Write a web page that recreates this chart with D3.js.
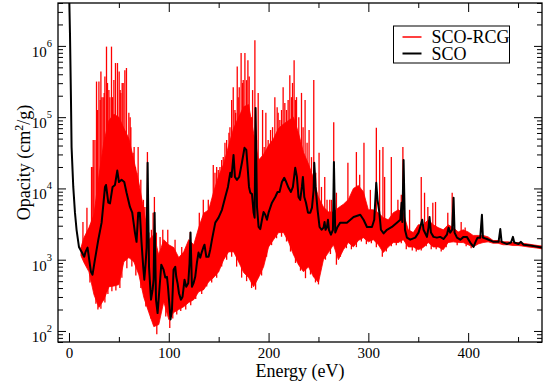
<!DOCTYPE html>
<html>
<head>
<meta charset="utf-8">
<script src="https://cdn.jsdelivr.net/npm/d3@7/dist/d3.min.js"></script>
<style>
    body { margin: 0; background: #fff; }
    text { font-family: "Liberation Serif", "Times New Roman", serif; fill: #000; }
</style>
</head>
<body>
<div id="chart"></div>
<script>
// axis ranges and ticks
const energyRange = [-11, 474];
const opacityRange = [70, 4e6];
const xMajorTicks = [0, 100, 200, 300, 400];
const xMinorTicks = [50, 150, 250, 350, 450];
const yMajorTicks = [1e2, 1e3, 1e4, 1e5, 1e6];
const yTickExponents = ["2", "3", "4", "5", "6"];
const seriesNames = ["SCO-RCG", "SCO"];

// SCO (black), [energy eV, opacity cm2/g]
const scoPoints = [
    [0.3, 4.5e6], [1.0, 1.5e6], [2.0, 1.74e5], [2.6, 3.8e4], [4.3, 1.05e4], [6.0, 4570], [7.6, 2630], [10, 1510],
    [12.6, 1290], [15.3, 1100], [16.6, 1290], [18.6, 1480], [20, 1070], [22, 676], [23.6, 617], [26, 1000],
    [29.4, 1910], [32.7, 3310], [36.1, 10500], [37.1, 11200], [39.4, 6310], [41.1, 6170], [43.7, 10500], [46.1, 11200],
    [48.4, 17800], [50.1, 12300], [52.7, 13200], [55.4, 12300], [57.7, 8710], [61.1, 5500], [63.4, 4570], [66.1, 2400],
    [67.7, 1780], [69.4, 4570], [71, 4570], [72.7, 1740], [74.4, 794], [75.5, 525], [76.8, 891], [77.8, 1480],
    [78.8, 22900], [80.2, 794], [82.2, 275], [83.8, 380], [84.8, 525], [85.8, 4570], [87.2, 275], [88.8, 178],
    [90.8, 417], [92.5, 851], [94.8, 724], [96.5, 562], [98.2, 575], [99.2, 417], [100.5, 245], [101.8, 145],
    [103.2, 200], [104.8, 724], [106.5, 794], [107.5, 575], [108.8, 468], [110.2, 339], [112.2, 275], [113.8, 302],
    [115.8, 525], [117.5, 417], [119.5, 468], [120.8, 891], [121.8, 2400], [123.2, 417], [124.8, 468], [126.5, 575],
    [128.2, 912], [129.8, 1260], [131.5, 1070], [133.2, 1290], [134.8, 1510], [135.8, 1620], [137.6, 1100], [139.9, 1100],
    [141.5, 1380], [143.3, 1910], [146.6, 3310], [149.9, 3890], [153.3, 5010], [156.6, 7590], [159.3, 10500], [161.6, 16600],
    [162.9, 14500], [164.9, 29500], [166.3, 14500], [168.3, 13200], [170.6, 14500], [173.3, 22900], [175.9, 37200], [177.7, 34700],
    [179, 20000], [180.4, 10500], [181.7, 8710], [183.4, 8320], [185, 4570], [186, 3890], [187, 135000], [188.4, 5500],
    [190, 2880], [191.7, 2690], [193.4, 3630], [195, 4680], [196.7, 4270], [198.4, 3630], [200, 4570], [203.4, 6310],
    [206.7, 7590], [209, 8910], [211, 8910], [213.4, 12300], [215.7, 14100], [217.7, 12300], [220, 10200], [222.4, 8910],
    [224.4, 10500], [226.7, 19500], [228.4, 14500], [230, 7590], [231.7, 6920], [233.4, 10500], [234.4, 14500], [235.8, 7590],
    [237.5, 6310], [239.5, 4570], [241.8, 4570], [243.5, 5370], [245.1, 9330], [245.8, 22900], [247.1, 10500], [249.1, 5010],
    [251.1, 2880], [253.1, 2630], [255.1, 2820], [256.1, 3390], [257.1, 2630], [258.5, 2880], [259.5, 3630], [260.5, 2630],
    [262.5, 2240], [264.5, 2630], [265.5, 23400], [266.8, 2400], [269.1, 2880], [271.8, 3310], [278.5, 3310], [285.2, 3980],
    [291.9, 4270], [295.2, 3630], [298.6, 2880], [303.6, 2880], [305.9, 3630], [307.9, 12000], [309.2, 6920], [311, 4570],
    [312.6, 2630], [315.3, 2340], [318.6, 2630], [323.6, 2880], [328.6, 3310], [332, 3630], [333.3, 6310], [334, 3390],
    [335.3, 25100], [336.7, 2630], [338.7, 2040], [342, 1910], [347, 2040], [350.3, 2400], [352, 2880], [354, 3630],
    [355.3, 2630], [358.7, 2090], [360.3, 2820], [361.3, 3980], [362.7, 2400], [365.3, 2090], [368.7, 2040], [372, 2090],
    [375.3, 1950], [378.7, 2240], [380.4, 2820], [382, 2400], [384, 2630], [385.4, 7410], [386.4, 2400], [388.8, 2040],
    [392.1, 1910], [395.4, 2090], [398.7, 2090], [402.1, 1740], [405.4, 1510], [407.4, 1780], [409.4, 2040], [412.1, 2040],
    [413.8, 4270], [414.8, 2040], [418.8, 1950], [425.5, 1780], [430.5, 1780], [432.2, 2690], [433.5, 1780], [438.9, 1660],
    [442.9, 1740], [444.9, 2090], [446.2, 1740], [450.5, 1660], [452.9, 1780], [455.5, 1620], [462.2, 1580], [474, 1480]
];

// SCO-RCG (red): solid part of the band, lower / upper edge
const rcgEnergy = [12, 15, 20, 25, 30, 35, 40, 45, 50, 55, 60, 65, 70, 75, 80, 85, 90, 95, 100, 105,
    110, 115, 120, 125, 130, 135, 140, 145, 150, 155, 160, 165, 170, 175, 180, 185, 190, 195, 200, 205,
    210, 215, 220, 225, 230, 235, 240, 245, 250, 255, 260, 265, 270, 275, 280, 285, 290, 295, 300, 305,
    310, 315, 320, 325, 330, 335, 340, 345, 350, 355, 360, 365, 370, 375, 380, 385, 390, 395, 400, 405,
    410, 415, 420, 425, 430, 435, 440, 445, 450, 455, 460, 465, 470, 475];
const rcgLow = [1140, 912, 676, 324, 214, 275, 417, 427, 447, 933, 1070, 933, 617, 295, 182, 115, 123, 257, 145, 182,
    200, 219, 251, 275, 355, 380, 490, 562, 676, 1000, 1290, 1290, 933, 661, 562, 417, 562, 794, 1510, 1910,
    2400, 2400, 1780, 1170, 851, 676, 794, 575, 479, 1000, 1260, 1620, 1000, 1380, 1740, 1510, 1860, 2040, 1780, 1910,
    1620, 1260, 1510, 1740, 1740, 1910, 1510, 1510, 1380, 1480, 1740, 1510, 1510, 1380, 1740, 1780, 1740, 1740, 1620, 1510,
    1660, 1740, 1780, 1700, 1700, 1620, 1620, 1580, 1580, 1550, 1510, 1480, 1450, 1410];
const rcgHigh = [1480, 2040, 2820, 4270, 15000, 45000, 90000, 110000, 100000, 70000, 50000, 25000, 12000, 5000, 1910, 2240, 1170, 1910, 1620, 1480,
    1070, 1290, 1910, 1620, 2820, 4500, 5000, 9000, 15000, 22000, 40000, 70000, 100000, 140000, 150000, 60000, 25000, 30000, 40000, 50000,
    70000, 80000, 90000, 100000, 60000, 32000, 22000, 14000, 7500, 5500, 4680, 4680, 5370, 6000, 7000, 10000, 11000, 9000, 5010, 5010,
    4570, 3890, 3630, 4570, 5010, 4570, 2630, 2400, 3090, 3090, 3630, 3090, 2820, 2630, 3090, 2820, 2450, 2630, 2450, 2190,
    2190, 2190, 2090, 1860, 1860, 1780, 1780, 1740, 1740, 1700, 1660, 1620, 1580, 1550];

// SCO-RCG single lines above the solid band, [energy eV, peak opacity]
const rcgPeaks = [
    [14, 3390], [18, 5370], [22.6, 20000], [24, 20000], [24.3, 47900], [26, 47900], [27.6, 316000], [28.6, 126000],
    [30, 316000], [31.3, 174000], [32, 437000], [33, 191000], [34.3, 191000], [35.3, 219000], [36, 372000], [37.6, 977000],
    [38.6, 302000], [40, 240000], [41, 191000], [42.6, 977000], [43.6, 191000], [45, 331000], [46.6, 575000], [48.6, 575000],
    [50.3, 437000], [51.3, 240000], [52, 219000], [53.3, 302000], [54.3, 302000], [56, 457000], [57.6, 490000], [60, 115000],
    [61.3, 100000], [62, 72400], [64.3, 31600], [65.3, 38000], [66.6, 20000], [68, 16600], [69.3, 38000], [70.6, 6920],
    [72, 13200], [72.6, 6920], [73.3, 5500], [74.6, 6920], [76, 5500], [77.6, 5500], [78.6, 32400], [80, 2400],
    [81.3, 1910], [82.6, 2630], [84.3, 4570], [85.6, 7590], [87.6, 2400], [91.3, 2090], [94, 2630], [99, 2630],
    [106.3, 1910], [113, 1510], [121.6, 2450], [130.6, 4570], [134.6, 6920], [138, 4570], [139.6, 6920], [141.3, 5500],
    [144.6, 21400], [146.3, 16600], [148, 20000], [149.6, 18200], [151.3, 20000], [153, 25100], [154.6, 27500], [156.3, 43700],
    [158, 47900], [160.3, 60300], [161.3, 72400], [163, 174000], [164.6, 263000], [166.3, 126000], [167, 115000], [168.6, 513000],
    [169.6, 191000], [170.6, 263000], [172.5, 794000], [174, 302000], [174.6, 331000], [176.3, 794000], [178, 331000], [179.3, 631000],
    [180.6, 372000], [183, 100000], [184, 240000], [186.3, 1200000], [188, 47900], [189.6, 219000], [192, 25100], [194, 126000],
    [195.6, 38000], [197.3, 115000], [199.6, 47900], [202, 66100], [204, 72400], [206.3, 191000], [208.6, 138000], [209.6, 115000],
    [211.3, 91200], [213, 126000], [214.6, 263000], [216.3, 158000], [218, 126000], [219.6, 174000], [221.3, 389000], [223, 191000],
    [224, 302000], [225.6, 631000], [227, 174000], [228, 191000], [230.3, 100000], [233, 219000], [234.6, 72400], [236.6, 174000],
    [238.6, 43700], [240.6, 66100], [243, 27500], [245.3, 331000], [247.3, 16600], [250.6, 31600], [253, 10500], [256.3, 14500],
    [258.6, 6920], [261.3, 6920], [263, 6920], [265.3, 85100], [268, 8710], [270.3, 5010], [279.5, 22900], [284, 8130],
    [288, 32400], [291.3, 15500], [295.6, 43700], [302, 9550], [308, 70800], [311.3, 34700], [314.6, 38000], [316.3, 14500],
    [323, 27500], [329.6, 6920], [333, 8130], [334.6, 38000], [341.3, 5010], [353, 14500], [356.3, 8710], [359.6, 5500],
    [364.6, 6310], [367.3, 6460], [379.6, 4570], [384, 8710], [393, 3390], [397, 2820]
];

// SCO-RCG notches below the solid band, [energy eV, lowest opacity]
const rcgDips = [
    [21, 480], [27, 240], [29, 200], [32, 205], [36, 250], [39, 330], [43, 360], [47, 370],
    [51, 400], [53, 560], [58, 760], [63, 800], [67, 600], [72, 400], [77, 220], [82, 150],
    [88, 90], [92, 200], [97, 160], [101, 110], [104, 150], [108, 170], [112, 190], [117, 200],
    [122, 230], [127, 280], [133, 330], [138, 420], [143, 480], [148, 560], [153, 800], [158, 1000],
    [163, 1100], [168, 800], [173, 560], [178, 500], [183, 400], [187, 380], [193, 600], [198, 1100],
    [203, 1600], [208, 2000], [213, 2100], [218, 1800], [222, 1300], [227, 900], [232, 700], [237, 550],
    [242, 620], [247, 480], [250, 450], [257, 1000], [262, 1200], [268, 850], [272, 1100], [278, 1450],
    [283, 1400], [288, 1500], [293, 1800], [298, 1650], [303, 1700], [308, 1500], [314, 1100], [318, 1300],
    [323, 1550], [328, 1600], [333, 1700], [338, 1400], [344, 1350], [348, 1300], [353, 1350], [358, 1550],
    [363, 1400], [368, 1400], [373, 1300], [378, 1500], [389, 1600], [398, 1550], [403, 1450]
];

function createChart() {
    let width = 545,
        height = 382;
    let margin = { left: 58, top: 3, right: 3, bottom: 40 };
    let plotW = width - margin.left - margin.right,
        plotH = height - margin.top - margin.bottom;

    let svg;
    let x = d3.scaleLinear().domain(energyRange).range([margin.left, margin.left + plotW]);
    let y = d3.scaleLog().domain(opacityRange).range([margin.top + plotH, margin.top]);

    createSVG();
    drawRCG();
    drawSCO();
    drawAxes();
    drawLegend();

    function createSVG() {
        svg = d3.select("#chart")
            .append("svg")
            .attr("width", width)
            .attr("height", height);

        svg.append("defs").append("clipPath")
            .attr("id", "plot-clip")
            .append("rect")
            .attr("x", margin.left)
            .attr("y", margin.top)
            .attr("width", plotW)
            .attr("height", plotH);
    }

    function nearIndex(e) {
        return Math.min(rcgEnergy.length - 1, Math.max(1, d3.bisectLeft(rcgEnergy, e)));
    }

    function drawRCG() {
        let g = svg.append("g").attr("clip-path", "url(#plot-clip)");

        let band = d3.area()
            .x(function (d, i) { return x(rcgEnergy[i]); })
            .y0(function (d, i) { return y(rcgLow[i]); })
            .y1(function (d, i) { return y(rcgHigh[i]); });

        g.append("path")
            .datum(rcgEnergy)
            .attr("d", band)
            .attr("fill", "#ff0000")
            .attr("stroke", "#ff0000")
            .attr("stroke-width", 0.8);

        // peaks start inside the band, at the nearer lower edge
        g.selectAll(".rcg-peak")
            .data(rcgPeaks)
            .enter().append("line")
            .attr("class", "rcg-peak")
            .attr("x1", function (d) { return x(d[0]); })
            .attr("x2", function (d) { return x(d[0]); })
            .attr("y1", function (d) { return y(d[1]); })
            .attr("y2", function (d) {
                let i = nearIndex(d[0]);
                return y(Math.max(rcgLow[i - 1], rcgLow[i]));
            })
            .attr("stroke", "#ff0000")
            .attr("stroke-width", 1.3);

        // dips start inside the band, at the nearer upper edge
        g.selectAll(".rcg-dip")
            .data(rcgDips)
            .enter().append("line")
            .attr("class", "rcg-dip")
            .attr("x1", function (d) { return x(d[0]); })
            .attr("x2", function (d) { return x(d[0]); })
            .attr("y1", function (d) { return y(d[1]); })
            .attr("y2", function (d) {
                let i = nearIndex(d[0]);
                return y(Math.min(rcgHigh[i - 1], rcgHigh[i]));
            })
            .attr("stroke", "#ff0000")
            .attr("stroke-width", 1.3);
    }

    function drawSCO() {
        let line = d3.line()
            .x(function (d) { return x(d[0]); })
            .y(function (d) { return y(d[1]); });

        svg.append("g").attr("clip-path", "url(#plot-clip)")
            .append("path")
            .datum(scoPoints)
            .attr("d", line)
            .attr("fill", "none")
            .attr("stroke", "#000")
            .attr("stroke-width", 2)
            .attr("stroke-linejoin", "round");
    }

    function drawAxes() {
        let bottom = margin.top + plotH,
            right = margin.left + plotW;
        let yMinor = y.ticks().filter(function (v) { return yMajorTicks.indexOf(v) < 0; });

        function tickGroup(axis, tx, ty) {
            let g = svg.append("g")
                .attr("transform", "translate(" + tx + "," + ty + ")")
                .call(axis);
            g.select(".domain").remove();
            g.selectAll("line").attr("stroke", "#000").attr("stroke-width", 1);
            return g;
        }

        // x, bottom with labels, top mirrored
        let xb = tickGroup(d3.axisBottom(x).tickValues(xMajorTicks).tickSize(-9).tickSizeOuter(0).tickPadding(5), 0, bottom);
        xb.selectAll("text")
            .style("font-family", '"Liberation Serif", serif')
            .style("font-size", "15px")
            .attr("fill", "#000");
        tickGroup(d3.axisBottom(x).tickValues(xMinorTicks).tickSize(-5).tickFormat(""), 0, bottom);
        tickGroup(d3.axisTop(x).tickValues(xMajorTicks).tickSize(-9).tickFormat(""), 0, margin.top);
        tickGroup(d3.axisTop(x).tickValues(xMinorTicks).tickSize(-5).tickFormat(""), 0, margin.top);

        // y, log: majors, minors, right mirrored
        tickGroup(d3.axisLeft(y).tickValues(yMajorTicks).tickSize(-8).tickFormat(""), margin.left, 0);
        tickGroup(d3.axisLeft(y).tickValues(yMinor).tickSize(-5).tickFormat(""), margin.left, 0);
        tickGroup(d3.axisRight(y).tickValues(yMajorTicks).tickSize(-8).tickFormat(""), right, 0);
        tickGroup(d3.axisRight(y).tickValues(yMinor).tickSize(-5).tickFormat(""), right, 0);

        let labels = svg.append("g").selectAll("text")
            .data(yMajorTicks)
            .enter().append("text")
            .attr("x", margin.left - 6)
            .attr("y", function (d) { return y(d) + 11; })
            .attr("text-anchor", "end")
            .style("font-size", "15px");
        labels.append("tspan").text("10");
        labels.append("tspan")
            .attr("dy", -10)
            .style("font-size", "10.5px")
            .text(function (d, i) { return yTickExponents[i]; });

        svg.append("rect")
            .attr("x", margin.left)
            .attr("y", margin.top)
            .attr("width", plotW)
            .attr("height", plotH)
            .attr("fill", "none")
            .attr("stroke", "#000")
            .attr("stroke-width", 1.3);

        svg.append("text")
            .attr("x", margin.left + plotW / 2)
            .attr("y", 377)
            .attr("text-anchor", "middle")
            .style("font-size", "18px")
            .text("Energy (eV)");

        let yTitle = svg.append("text")
            .attr("transform", "translate(30," + (margin.top + plotH / 2 - 10) + ") rotate(-90)")
            .attr("text-anchor", "middle")
            .style("font-size", "18px");
        yTitle.append("tspan").text("Opacity (cm");
        yTitle.append("tspan").attr("dy", -7).style("font-size", "12px").text("2");
        yTitle.append("tspan").attr("dy", 7).text("/g)");
    }

    function drawLegend() {
        let colors = ["#ff0000", "#000"];
        let widths = [1.5, 2];
        let legend = svg.append("g").attr("transform", "translate(393.5,26)");

        legend.append("rect")
            .attr("width", 116)
            .attr("height", 37)
            .attr("fill", "#fff")
            .attr("stroke", "#000")
            .attr("stroke-width", 1);

        let rows = legend.selectAll(".row")
            .data(seriesNames)
            .enter().append("g")
            .attr("class", "row")
            .attr("transform", function (d, i) { return "translate(0," + (11 + i * 16.5) + ")"; });

        rows.append("line")
            .attr("x1", 9)
            .attr("x2", 28)
            .attr("stroke", function (d, i) { return colors[i]; })
            .attr("stroke-width", function (d, i) { return widths[i]; });

        rows.append("text")
            .attr("x", 38)
            .attr("y", 6)
            .style("font-size", "18px")
            .text(function (d) { return d; });
    }
}

document.addEventListener("DOMContentLoaded", createChart);
</script>
</body>
</html>
